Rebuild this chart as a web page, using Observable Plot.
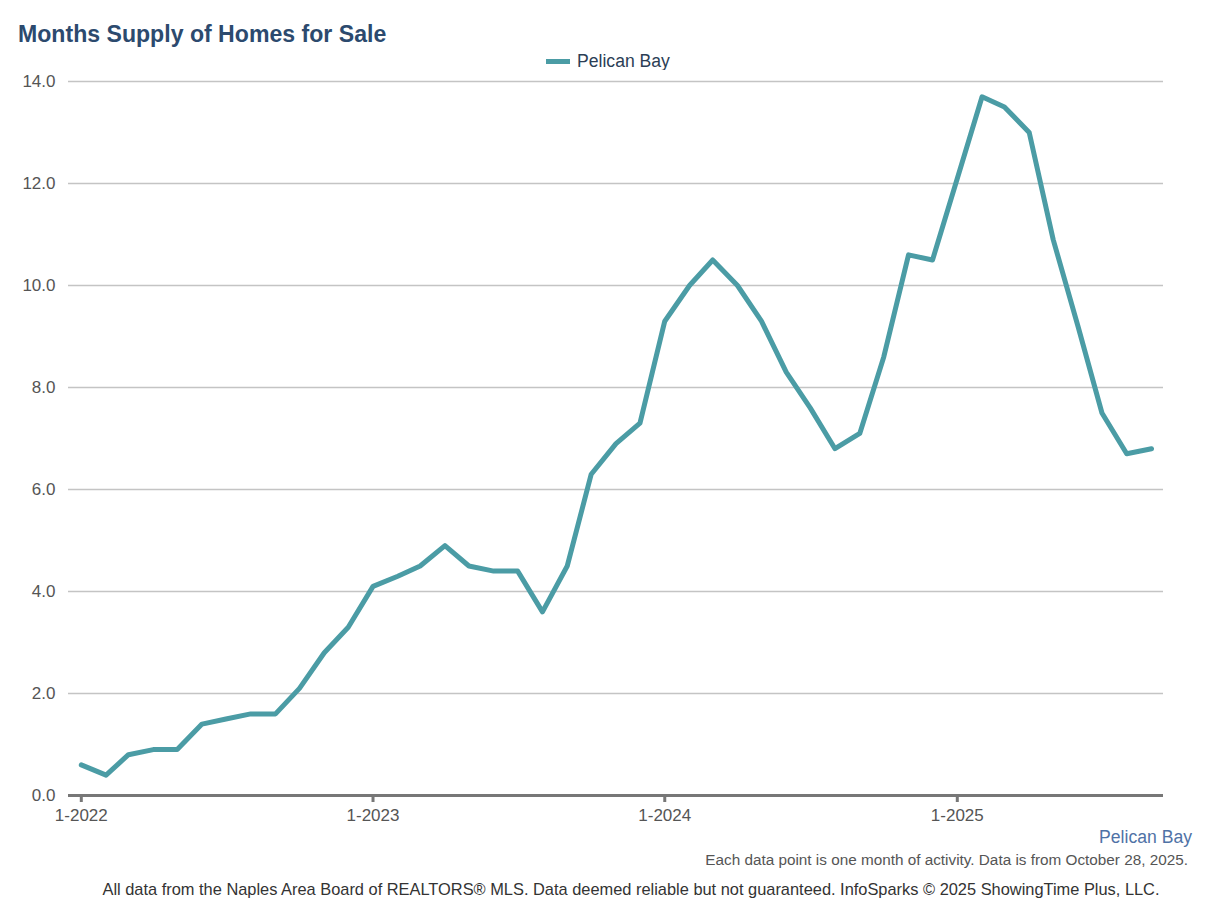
<!DOCTYPE html>
<html>
<head>
<meta charset="utf-8">
<script src="https://cdn.jsdelivr.net/npm/d3@7"></script>
<script src="https://cdn.jsdelivr.net/npm/@observablehq/plot@0.6"></script>
<style>
  html, body { margin: 0; padding: 0; background: #fff; width: 1218px; height: 922px; overflow: hidden; font-family: "Liberation Sans", Arial, Helvetica, sans-serif; }
  .abs { position: absolute; white-space: nowrap; }
  #title { left: 18px; top: 21px; font-size: 23.1px; font-weight: bold; color: #2c4a6e; }
  #legend { left: 546px; top: 51px; font-size: 17.6px; color: #2c3e55; display: flex; align-items: center; }
  #legend .sw { width: 24px; height: 5px; background: #4b9ca5; margin-right: 7px; }
  #chart { position: absolute; left: 0; top: 70px; }
  #series { right: 26px; top: 827px; font-size: 17.6px; color: #4f72a6; }
  #note { right: 30px; top: 851px; font-size: 15.3px; color: #555; }
  #credit { left: 22px; width: 1218px; text-align: center; top: 880px; font-size: 16.4px; color: #333; }
</style>
</head>
<body>
<div id="title" class="abs">Months Supply of Homes for Sale</div>
<div id="legend" class="abs"><span class="sw"></span><span>Pelican Bay</span></div>
<div id="chart"></div>
<div id="series" class="abs">Pelican Bay</div>
<div id="note" class="abs">Each data point is one month of activity. Data is from October 28, 2025.</div>
<div id="credit" class="abs">All data from the Naples Area Board of REALTORS® MLS. Data deemed reliable but not guaranteed. InfoSparks © 2025 ShowingTime Plus, LLC.</div>
<script>
// Months: Jan 2022 .. Sep 2025
const months = d3.utcMonth.range(new Date(Date.UTC(2022, 0, 1)), new Date(Date.UTC(2025, 9, 1)));
const supply = [
  0.6, 0.4, 0.8, 0.9, 0.9, 1.4, 1.5, 1.6, 1.6, 2.1, 2.8, 3.3,
  4.1, 4.3, 4.5, 4.9, 4.5, 4.4, 4.4, 3.6, 4.5, 6.3, 6.9, 7.3,
  9.3, 10.0, 10.5, 10.0, 9.3, 8.3, 7.6, 6.8, 7.1, 8.6, 10.6, 10.5,
  12.1, 13.7, 13.5, 13.0, 10.9, 9.2, 7.5, 6.7, 6.8
];
const yTicks = [0, 2, 4, 6, 8, 10, 12, 14];
const xTicks = [new Date(Date.UTC(2022,0,1)), new Date(Date.UTC(2023,0,1)), new Date(Date.UTC(2024,0,1)), new Date(Date.UTC(2025,0,1))];
const xTickLabels = ["1-2022", "1-2023", "1-2024", "1-2025"];

const data = months.map((d, i) => ({date: d, value: supply[i]}));

const plot = Plot.plot({
  width: 1218,
  height: 770,
  marginLeft: 68,
  marginRight: 55,
  marginTop: 11,
  marginBottom: 45,
  style: { fontFamily: "Liberation Sans, Arial, sans-serif", fontSize: "17px", color: "#555", background: "#fff" },
  x: { type: "utc", domain: [new Date(Date.UTC(2021, 11, 16)), new Date(Date.UTC(2025, 8, 16))] },
  y: { domain: [0, 14] },
  marks: [
    Plot.gridY(yTicks, { stroke: "#c4c4c4", strokeOpacity: 1, strokeWidth: 1.5 }),
    Plot.axisY(yTicks, { tickSize: 0, tickPadding: 13, tickFormat: d => d.toFixed(1), fill: "#555", fontSize: 17, label: null }),
    Plot.lineY(data, { x: "date", y: "value", stroke: "#4b9ca5", strokeWidth: 5, strokeLinejoin: "round", strokeLinecap: "round" }),
    Plot.ruleY([0], { stroke: "#777", strokeWidth: 3 }),
    Plot.axisX(xTicks, { tickSize: 7, tickPadding: 6, stroke: "#777", strokeWidth: 3, tickFormat: (d, i) => xTickLabels[i], fill: "#555", fontSize: 17, label: null })
  ]
});
document.getElementById("chart").appendChild(plot);
</script>
</body>
</html>
